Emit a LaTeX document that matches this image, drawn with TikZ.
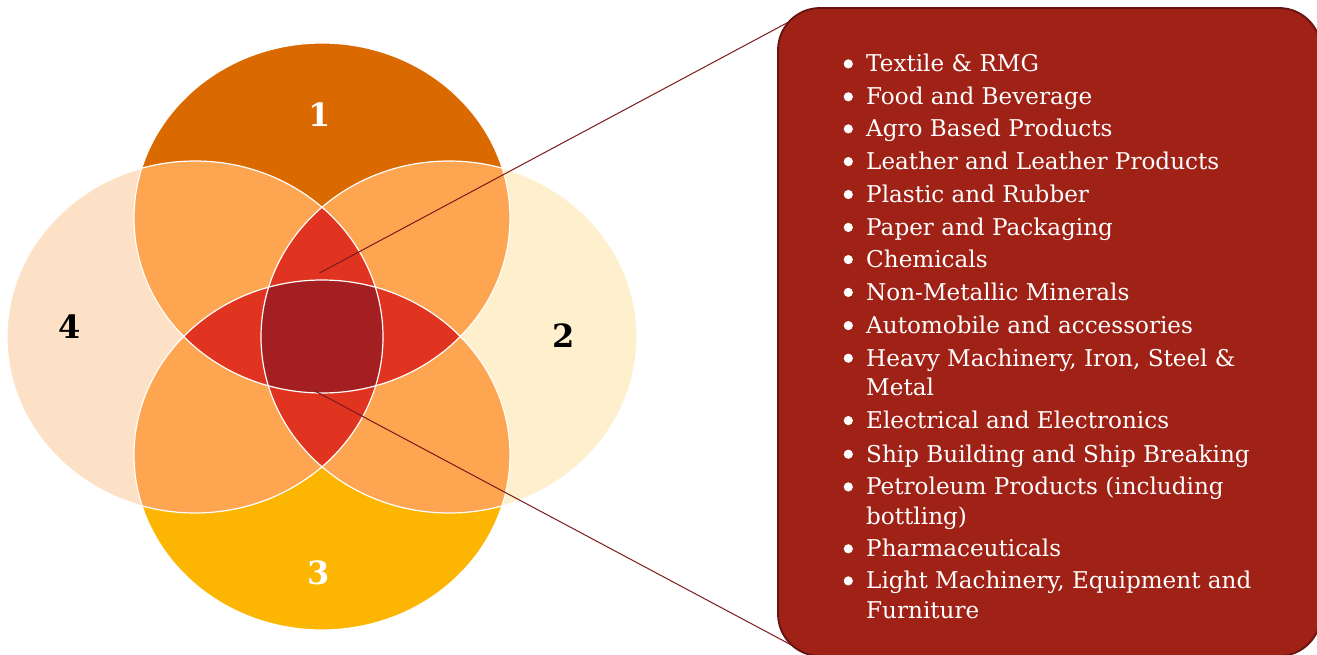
\documentclass[tikz,border=0pt]{standalone}
\usepackage{fontspec}
\setmainfont{DejaVu Serif}
\definecolor{cone}{HTML}{DA6900}
\definecolor{cthree}{HTML}{FCB500}
\definecolor{cfour}{HTML}{FDE1C6}
\definecolor{ctwo}{HTML}{FEEFCD}
\definecolor{cpair}{HTML}{FEA552}
\definecolor{ctriple}{HTML}{E03420}
\definecolor{cquad}{HTML}{A31F21}
\definecolor{boxfill}{HTML}{A02217}
\definecolor{boxline}{HTML}{661210}
\definecolor{leader}{HTML}{7A1A1A}
\begin{document}
\begin{tikzpicture}[x=1pt,y=-1pt,
  eone/.style={insert path={(322,218) ellipse [x radius=188pt, y radius=175pt]}},
  ethree/.style={insert path={(322,455) ellipse [x radius=188pt, y radius=175pt]}},
  efour/.style={insert path={(195,337) ellipse [x radius=188pt, y radius=176pt]}},
  etwo/.style={insert path={(449,337) ellipse [x radius=188pt, y radius=176pt]}},
  outline/.style={draw=white, line width=1.2pt},
  leaderline/.style={draw=leader, line width=1pt},
  item/.style={anchor=base west, inner sep=0pt, text=white, font=\fontsize{23.1}{28}\selectfont},
  digit/.style={inner sep=0pt, font=\fontsize{32}{34}\selectfont\bfseries},
  bulletdot/.style={fill=white}
]
\useasboundingbox (0,0) rectangle (1317,655);
% single sets
\fill[cfour, efour];
\fill[ctwo, etwo];
\fill[cone, eone];
\fill[cthree, ethree];
% pairwise overlaps
\begin{scope}\clip[eone]; \fill[cpair, efour]; \fill[cpair, etwo]; \fill[cpair, ethree]; \end{scope}
\begin{scope}\clip[ethree]; \fill[cpair, efour]; \fill[cpair, etwo]; \end{scope}
\begin{scope}\clip[etwo]; \fill[cpair, efour]; \end{scope}
% triple overlaps
\begin{scope}\clip[eone]; \clip[etwo]; \fill[ctriple, efour]; \fill[ctriple, ethree]; \end{scope}
\begin{scope}\clip[ethree]; \clip[efour]; \fill[ctriple, eone]; \fill[ctriple, etwo]; \end{scope}
% quadruple
\begin{scope}\clip[eone]; \clip[etwo]; \clip[ethree]; \fill[cquad, efour]; \end{scope}
% outlines
\path[outline, efour];
\path[outline, etwo];
\path[outline, eone];
\path[outline, ethree];
% digits
\node[digit, text=white] (d1) at (320,115) {1};
\node[digit, text=black] (d2) at (564,336) {2};
\node[digit, text=white] (d3) at (318.5,573) {3};
\node[digit, text=black] (d4) at (70,327) {4};
% leader lines
\coordinate (s1) at (319.5,273);
\coordinate (s2) at (315,391);
\coordinate (t1) at (798,17);
\coordinate (t2) at (796,647.5);
\draw[leaderline] (s1) -- (t1);
\draw[leaderline] (s2) -- (t2);
% box
\node[draw=boxline, line width=1.8pt, fill=boxfill, rounded corners=42pt,
      minimum width=543pt, minimum height=648pt, inner sep=0pt, outer sep=0pt,
      anchor=north west] (box) at (778,8) {};
% list
\node[item] (l1) at (866,71.7) {Textile \& RMG};
\node[item] (l2) at (866,104.6) {Food and Beverage};
\node[item] (l3) at (866,136.7) {Agro Based Products};
\node[item] (l4) at (866,169.4) {Leather and Leather Products};
\node[item] (l5) at (866,202.3) {Plastic and Rubber};
\node[item] (l6) at (866,235.2) {Paper and Packaging};
\node[item] (l7) at (866,267.4) {Chemicals};
\node[item] (l8) at (866,300.2) {Non-Metallic Minerals};
\node[item] (l9) at (866,333.4) {Automobile and accessories};
\node[item] (l10) at (866,366) {Heavy Machinery, Iron, Steel \&};
\node[item] (l11) at (866,395.6) {Metal};
\node[item] (l12) at (866,428.4) {Electrical and Electronics};
\node[item] (l13) at (866,462) {Ship Building and Ship Breaking};
\node[item] (l14) at (866,494.7) {Petroleum Products (including};
\node[item] (l15) at (866,524.7) {bottling)};
\node[item] (l16) at (866,556.6) {Pharmaceuticals};
\node[item] (l17) at (866,588.7) {Light Machinery, Equipment and};
\node[item] (l18) at (866,618.7) {Furniture};
\foreach \yy in {71.7,104.6,136.7,169.4,202.3,235.2,267.4,300.2,333.4,366,428.4,462,494.7,556.6,588.7}
  \fill[bulletdot] (848.3,\yy-7.8) circle (4.6pt);
\end{tikzpicture}
\end{document}
